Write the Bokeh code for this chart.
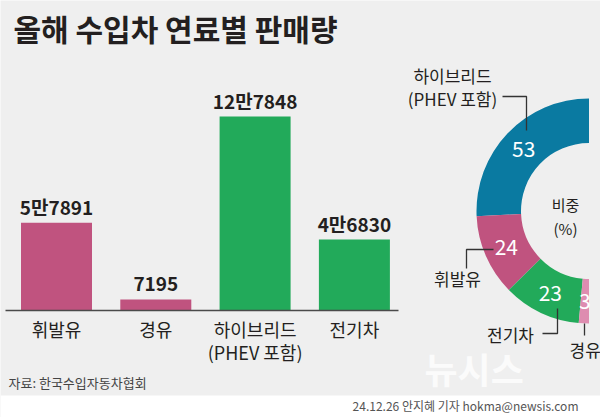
import numpy as np
from bokeh.plotting import figure
from bokeh.models import Range1d
from bokeh.core.properties import value
from bokeh.embed import file_html
from bokeh.resources import INLINE

# ---------------- data ----------------
title = "올해 수입차 연료별 판매량"
categories = ["휘발유", "경유", "하이브리드", "전기차"]
category_sub = ["", "", "(PHEV 포함)", ""]
sales = [57891, 7195, 127848, 46830]
sales_labels = ["5만7891", "7195", "12만7848", "4만6830"]
bar_colors = ["#c0537f", "#c0537f", "#22aa5a", "#22aa5a"]

share_names = ["하이브리드", "휘발유", "전기차", "경유"]
shares = [53, 24, 23, 3]
share_colors = ["#0a7aa1", "#c0537f", "#22aa5a", "#de8db0"]
center_text = ["비중", "(%)"]
source_text = "자료: 한국수입자동차협회"
credit_text = "24.12.26 안지혜 기자 hokma@newsis.com"

# ---------------- layout ----------------
W, H = 600, 417
KR = "Noto Sans CJK KR"
DARK = "#231f20"


def Y(pix):
    return H - pix


p = figure(width=W, height=H, x_range=Range1d(0, W), y_range=Range1d(0, H),
           output_backend="svg", toolbar_location=None,
           x_axis_location=None, y_axis_location=None, min_border=0,
           background_fill_color="#efefef", border_fill_color="#efefef",
           outline_line_color=None)
p.grid.visible = False

# bar chart scales
bar_step, first_center = 99.3, 56.0
p.extra_x_ranges["bars"] = Range1d(-first_center / bar_step, (W - first_center) / bar_step)
base_up, top_up = Y(310), Y(116)
vpp = max(sales) / (top_up - base_up)
p.extra_y_ranges["val"] = Range1d(-base_up * vpp, (H - base_up) * vpp)

idx = list(range(len(categories)))

# bottom white strip + watermark
p.quad(left=[0], right=[W], bottom=[0], top=[Y(395)], color="white", line_color=None)
p.text(x=[424], y=[Y(367)], text=["뉴시스"], text_font=value(KR), text_font_style="bold",
       text_font_size="36px", text_color="#fbfbfb", text_baseline="middle")

# bars
p.vbar(x=idx, top=sales, bottom=0, width=0.715, color=bar_colors, line_color=None,
       x_range_name="bars", y_range_name="val")
p.segment(x0=[5], x1=[398], y0=[0], y1=[0], y_range_name="val",
          line_color="#4a4a4a", line_width=1.5)
p.text(x=idx, y=sales, text=sales_labels, x_range_name="bars", y_range_name="val",
       text_align="center", text_baseline="alphabetic", y_offset=-16,
       text_font=value(KR), text_font_style="bold", text_font_size="19px", text_color=DARK)
p.text(x=idx, y=[Y(328)] * len(idx), text=categories, x_range_name="bars",
       text_align="center", text_baseline="middle", text_font=value(KR),
       text_font_size="18px", text_color=DARK)
p.text(x=idx, y=[Y(351)] * len(idx), text=category_sub, x_range_name="bars",
       text_align="center", text_baseline="middle", text_font=value(KR),
       text_font_size="18px", text_color=DARK)

# donut (left half)
cx, cy, R, r = 588.5, Y(210.5), 112.5, 68.0
total = float(sum(shares))
span = np.cumsum([0] + shares) / total * np.pi
starts = np.pi / 2 + span[:-1]
ends = np.pi / 2 + span[1:]
p.annular_wedge(x=cx, y=cy, inner_radius=r, outer_radius=R, start_angle=starts,
                end_angle=ends, color=share_colors, line_color=None)
mids = (starts + ends) / 2
rm = (R + r) / 2
p.text(x=cx + rm * np.cos(mids), y=cy + rm * np.sin(mids), text=[str(s) for s in shares],
       text_align="center", text_baseline="middle", text_font=value(KR),
       text_font_size="21px", text_color="white")
p.text(x=[565, 565], y=[Y(204), Y(228)], text=center_text, text_align="center",
       text_baseline="middle", text_font=value(KR), text_font_size="15px", text_color=DARK)

# outer labels and leader lines
p.text(x=[452, 452, 457, 510, 569], y=[Y(75), Y(98), Y(278), Y(334), Y(349)],
       text=[share_names[0], "(PHEV 포함)", share_names[1], share_names[2], share_names[3]],
       text_align=["center", "center", "center", "center", "left"], text_baseline="middle",
       text_font=value(KR), text_font_size="17px", text_color=DARK)
p.multi_line(xs=[[502, 526, 526], [466, 466, 493], [542, 557, 557], [584, 584]],
             ys=[[Y(96), Y(96), Y(130)], [Y(268), Y(249), Y(249)],
                 [Y(333), Y(333), Y(308)], [Y(323), Y(335)]],
             line_color="#333333", line_width=1.3)

# title and footer texts
p.text(x=[13], y=[Y(27)], text=[title], text_font=value(KR), text_font_style="bold",
       text_font_size="30px", text_color=DARK, text_baseline="middle")
p.text(x=[8], y=[Y(382)], text=[source_text], text_font=value(KR), text_font_size="13px",
       text_color="#444444", text_baseline="middle")
p.text(x=[578], y=[Y(405)], text=[credit_text], text_font=value(KR), text_font_size="12px",
       text_color="#555555", text_baseline="middle", text_align="right")

open("out.html", "w").write(file_html(p, INLINE))
